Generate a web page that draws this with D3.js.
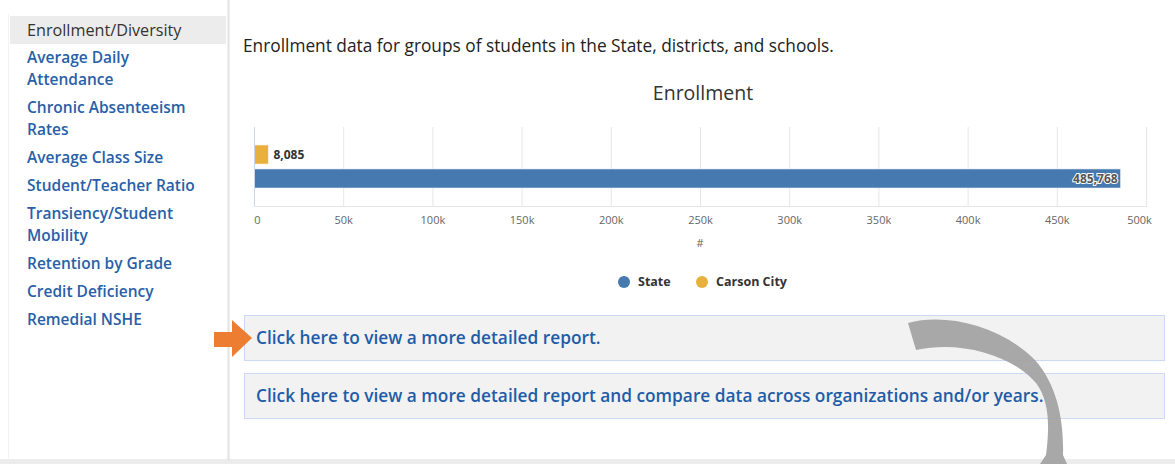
<!DOCTYPE html>
<html>
<head>
<meta charset="utf-8">
<script src="https://cdn.jsdelivr.net/npm/d3@7"></script>
<style>
  body { margin: 0; background: #fff; }
  svg { display: block; font-family: 'Open Sans', sans-serif; }
</style>
</head>
<body>
<svg id="page" width="1175" height="464"></svg>
<script>
// chart data
const seriesNames = ['State', 'Carson City'];
const seriesValues = [485768, 8085];
const seriesColors = ['#4579b0', '#e8b03c'];
const tickValues = [0, 50000, 100000, 150000, 200000, 250000, 300000, 350000, 400000, 450000, 500000];
const tickLabels = ['0', '50k', '100k', '150k', '200k', '250k', '300k', '350k', '400k', '450k', '500k'];

// sidebar menu
const menuItems = [
  ['Enrollment/Diversity'],
  ['Average Daily', 'Attendance'],
  ['Chronic Absenteeism', 'Rates'],
  ['Average Class Size'],
  ['Student/Teacher Ratio'],
  ['Transiency/Student', 'Mobility'],
  ['Retention by Grade'],
  ['Credit Deficiency'],
  ['Remedial NSHE'],
];
const reportLinks = [
  'Click here to view a more detailed report.',
  'Click here to view a more detailed report and compare data across organizations and/or years.',
];

const svg = d3.select('#page');

// ---- page frame ----
svg.append('rect').attr('x', 0).attr('y', 459).attr('width', 1175).attr('height', 5).attr('fill', '#ececec');
svg.append('line').attr('x1', 228.5).attr('x2', 228.5).attr('y1', 0).attr('y2', 460)
  .attr('stroke', '#e2e2e2').attr('stroke-width', 2);
svg.append('line').attr('x1', 8.5).attr('x2', 8.5).attr('y1', 14).attr('y2', 460)
  .attr('stroke', '#f2f2f2').attr('stroke-width', 1);

// ---- sidebar ----
svg.append('rect').attr('x', 10).attr('y', 16).attr('width', 216).attr('height', 28).attr('fill', '#ececec');

let y = 30;
menuItems.forEach(function (lines, i) {
  lines.forEach(function (line, j) {
    svg.append('text')
      .attr('x', 27)
      .attr('y', y + j * 22)
      .attr('dy', '0.35em')
      .attr('font-size', i === 0 ? 16.2 : 15.5)
      .attr('font-weight', i === 0 ? 400 : 600)
      .attr('fill', i === 0 ? '#333' : '#2860a8')
      .text(line);
  });
  y += (lines.length - 1) * 22 + 28;
});

// ---- intro text and title ----
svg.append('text').attr('x', 243).attr('y', 46).attr('dy', '0.35em')
  .attr('font-size', 17.3).attr('fill', '#222')
  .text('Enrollment data for groups of students in the State, districts, and schools.');

svg.append('text').attr('x', 703).attr('y', 93).attr('dy', '0.35em')
  .attr('text-anchor', 'middle').attr('font-size', 19.5).attr('fill', '#333')
  .text('Enrollment');

// ---- bar chart ----
const plotTop = 127, plotBottom = 206;
const x = d3.scaleLinear().domain([0, 500000]).range([254, 1146]);
const yBand = d3.scaleBand()
  .domain(['Carson City', 'State'])
  .range([143, 190])
  .paddingInner(0.2)
  .paddingOuter(0.08);

const chart = svg.append('g');

// vertical gridlines
chart.append('g').selectAll('line')
  .data(tickValues.slice(1))
  .join('line')
  .attr('x1', d => x(d) + 0.5).attr('x2', d => x(d) + 0.5)
  .attr('y1', plotTop).attr('y2', plotBottom)
  .attr('stroke', '#e6e6e6');

// bottom line
chart.append('line').attr('x1', x(0)).attr('x2', x(500000) + 1)
  .attr('y1', plotBottom + 0.5).attr('y2', plotBottom + 0.5).attr('stroke', '#e6e6e6');

// bars
const barData = seriesNames.map((name, i) => ({ name: name, value: seriesValues[i], color: seriesColors[i] }));
chart.append('g').selectAll('rect')
  .data(barData)
  .join('rect')
  .attr('x', x(0))
  .attr('y', d => yBand(d.name))
  .attr('width', d => x(d.value) - x(0))
  .attr('height', yBand.bandwidth())
  .attr('fill', d => d.color)
  .attr('stroke', '#fff')
  .attr('stroke-opacity', 0.6)
  .attr('stroke-width', 1);

// category axis line
chart.append('line').attr('x1', x(0) + 0.5).attr('x2', x(0) + 0.5)
  .attr('y1', plotTop).attr('y2', plotBottom).attr('stroke', '#ccd6eb');

// data labels: inside for the long bar, outside for the short one
chart.append('g').selectAll('text')
  .data(barData)
  .join('text')
  .attr('x', d => d.value > 100000 ? x(d.value) - 3 : x(d.value) + 5)
  .attr('y', d => yBand(d.name) + yBand.bandwidth() / 2)
  .attr('dy', '0.35em')
  .attr('text-anchor', d => d.value > 100000 ? 'end' : 'start')
  .attr('font-size', 12)
  .attr('font-weight', 700)
  .attr('fill', d => d.value > 100000 ? '#555' : '#333')
  .attr('stroke', d => d.value > 100000 ? '#fff' : 'none')
  .attr('stroke-width', 2)
  .attr('paint-order', 'stroke')
  .text(d => d3.format(',')(d.value));

// x axis
const xAxis = d3.axisBottom(x)
  .tickValues(tickValues)
  .tickFormat((d, i) => tickLabels[i])
  .tickSize(0)
  .tickPadding(10);

const axisG = chart.append('g')
  .attr('transform', `translate(0,${plotBottom})`)
  .call(xAxis);
axisG.select('.domain').remove();
axisG.selectAll('text')
  .attr('font-family', "'Open Sans', sans-serif")
  .attr('font-size', 11)
  .attr('fill', '#666');
// first and last labels are nudged inward like the original
axisG.selectAll('.tick text').filter((d, i) => i === 0).attr('dx', 3);
axisG.selectAll('.tick text').filter((d, i) => i === tickValues.length - 1).attr('dx', -7);

svg.append('text').attr('x', 700).attr('y', 243).attr('dy', '0.35em')
  .attr('text-anchor', 'middle').attr('font-size', 11).attr('fill', '#666').text('#');

// legend
const legendX = [624, 702];
const legend = svg.append('g').selectAll('g')
  .data(barData)
  .join('g')
  .attr('transform', (d, i) => `translate(${legendX[i]},282)`);
legend.append('circle').attr('r', 6).attr('fill', d => d.color);
legend.append('text').attr('x', 14).attr('dy', '0.35em')
  .attr('font-size', 12.5).attr('font-weight', 700).attr('fill', '#333')
  .text(d => d.name);

// ---- report links ----
const links = svg.append('g').selectAll('g')
  .data(reportLinks)
  .join('g')
  .attr('transform', (d, i) => `translate(244,${315 + i * 58})`);
links.append('rect')
  .attr('x', 0.5).attr('y', 0.5).attr('width', 920).attr('height', 45)
  .attr('fill', '#f2f2f2').attr('stroke', '#cbd9f6');
links.append('text')
  .attr('x', 12).attr('y', 23).attr('dy', '0.35em')
  .attr('font-size', 17.3).attr('font-weight', 600).attr('fill', '#1f5ca8')
  .text(d => d);

// ---- annotation arrows ----
svg.append('path')
  .attr('d', 'M214,332 L232,332 L232,320 L252,338 L232,357 L232,347 L214,347 Z')
  .attr('fill', '#ed7d31');

svg.append('path')
  .attr('d', 'M908,323 C945,313 1000,325 1035,360 C1057,385 1064,420 1063,455 L1067,464 L1040,464 L1046,455 C1050,425 1049,400 1036,383 C1012,355 960,340 916,350 Z')
  .attr('fill', '#a3a3a3')
  .attr('opacity', 0.95);
</script>
</body>
</html>
